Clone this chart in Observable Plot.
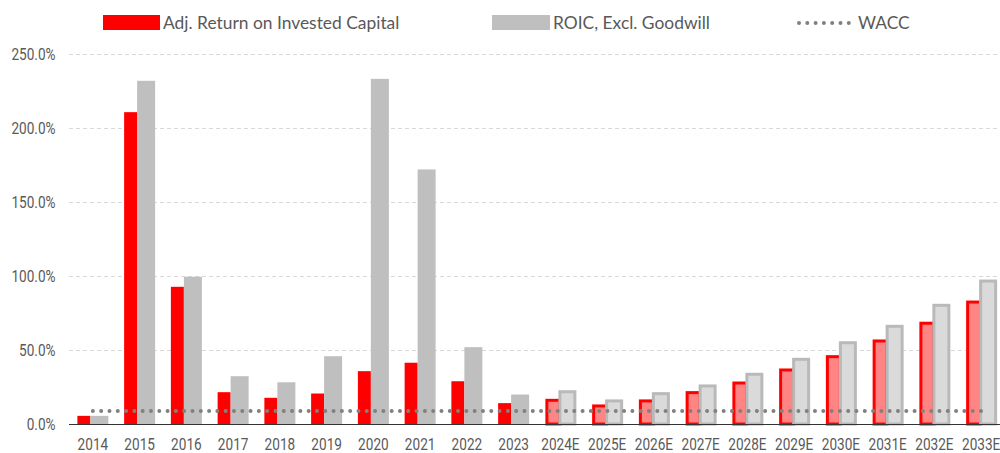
<!DOCTYPE html>
<html>
<head>
<meta charset="utf-8">
<script src="https://cdn.jsdelivr.net/npm/d3@7"></script>
<script src="https://cdn.jsdelivr.net/npm/@observablehq/plot@0.6"></script>
<style>
  html, body { margin: 0; padding: 0; background: #fff; }
  body { width: 1000px; height: 453px; overflow: hidden; font-family: Lato, Roboto, sans-serif; }
  #legend { position: relative; height: 40px; width: 1000px; color: #595959; font-size: 17.4px; }
  #legend .item { position: absolute; top: 14px; display: flex; align-items: center; height: 17px; white-space: nowrap; }
  #legend .sw { display: inline-block; height: 15px; margin-right: 3px; }
  #chart svg { display: block; overflow: visible; }
</style>
</head>
<body>
<div id="legend"></div>
<div id="chart"></div>
<script>
// ---- data ----
const years = ["2014","2015","2016","2017","2018","2019","2020","2021","2022","2023",
               "2024E","2025E","2026E","2027E","2028E","2029E","2030E","2031E","2032E","2033E"];
const adjRoic   = [5.5, 210.7, 92.7, 21.5, 17.7, 20.6, 35.7, 41.4, 28.9, 14.1,
                   16.0, 12.2, 15.6, 21.2, 27.7, 36.5, 45.5, 56.1, 68.1, 82.4];
const roicExGw  = [5.5, 231.9, 99.5, 32.3, 28.2, 45.8, 233.2, 172.0, 51.9, 19.9,
                   21.8, 15.6, 20.5, 25.7, 33.6, 43.7, 54.9, 66.0, 80.2, 96.6];
const wacc = 9.1;
const yTicks = [0, 50, 100, 150, 200, 250];
const seriesNames = ["Adj. Return on Invested Capital", "ROIC, Excl. Goodwill", "WACC"];

// ---- table ----
const rows = years.map((y, i) => ({
  year: y,
  adj: adjRoic[i],
  exgw: roicExGw[i],
  wacc: wacc,
  forecast: y.endsWith("E")
}));
const hist = rows.filter(d => !d.forecast);
const fc = rows.filter(d => d.forecast);

// ---- legend ----
const legend = document.getElementById("legend");
legend.innerHTML = `
  <div class="item" style="left:103px"><span class="sw" style="width:57px;background:#ff0000"></span>${seriesNames[0]}</div>
  <div class="item" style="left:492px"><span class="sw" style="width:58px;background:#bfbfbf"></span>${seriesNames[1]}</div>
  <div class="item" style="left:797px"><svg width="58" height="15" style="margin-right:3px"><line x1="2" x2="56" y1="8" y2="8" stroke="#808080" stroke-width="4" stroke-linecap="round" stroke-dasharray="0 8.3"/></svg>${seriesNames[2]}</div>
`;

// ---- chart ----
const bw = 46.75; // band step (padding 0)
const axisFont = 'Roboto, sans-serif';
const plot = Plot.plot({
  width: 1000,
  height: 413,
  marginLeft: 69,
  marginRight: -4,
  marginTop: 14,
  marginBottom: 29,
  style: { fontFamily: axisFont, fontSize: "17px", color: "#595959", background: "#fff" },
  x: { domain: years, padding: 0, round: false, label: null },
  y: { domain: [0, 250], label: null },
  marks: [
    Plot.ruleY(yTicks.filter(t => t > 0), { stroke: "#d9d9d9", strokeDasharray: "4,3", strokeWidth: 1 }),
    Plot.axisY({ ticks: yTicks, tickSize: 0, tickPadding: 14, tickFormat: d => d.toFixed(1) + "%", fill: "#595959", fontSize: 17 }),
    Plot.axisX({ tickSize: 0, tickPadding: 13, fill: "#595959", fontSize: 17 }),
    // historical bars
    Plot.barY(hist, { x: "year", y: "adj", fill: "#ff0000", insetLeft: bw/2 - 15, insetRight: bw/2 + 2 }),
    Plot.barY(hist, { x: "year", y: "exgw", fill: "#bfbfbf", insetLeft: bw/2 - 2, insetRight: bw/2 - 16 }),
    // forecast bars
    Plot.barY(fc, { x: "year", y: "adj", fill: "#ff8585", stroke: "#ff0000", strokeWidth: 3, insetLeft: bw/2 - 13, insetRight: bw/2 }),
    Plot.barY(fc, { x: "year", y: "exgw", fill: "#dadada", stroke: "#b9b9b9", strokeWidth: 3, insetLeft: bw/2, insetRight: bw/2 - 15 }),
    // zero line
    Plot.ruleY([0], { stroke: "#333", strokeWidth: 1 }),
    // WACC
    Plot.lineY(rows, { x: "year", y: "wacc", stroke: "#808080", strokeWidth: 4, strokeLinecap: "round", strokeDasharray: "0 8.3" })
  ]
});
// condense axis tick labels horizontally (reference uses a condensed face)
plot.querySelectorAll('g[aria-label$="tick label"] text').forEach(t => {
  const tr = t.getAttribute("transform");
  if (tr) t.setAttribute("transform", tr + " scale(0.8,1)");
  else {
    const x = t.getAttribute("x") || 0, y = t.getAttribute("y") || 0;
    t.setAttribute("transform", `translate(${x},${y}) scale(0.8,1)`);
    t.removeAttribute("x"); t.removeAttribute("y");
  }
});
document.getElementById("chart").appendChild(plot);
</script>
</body>
</html>
